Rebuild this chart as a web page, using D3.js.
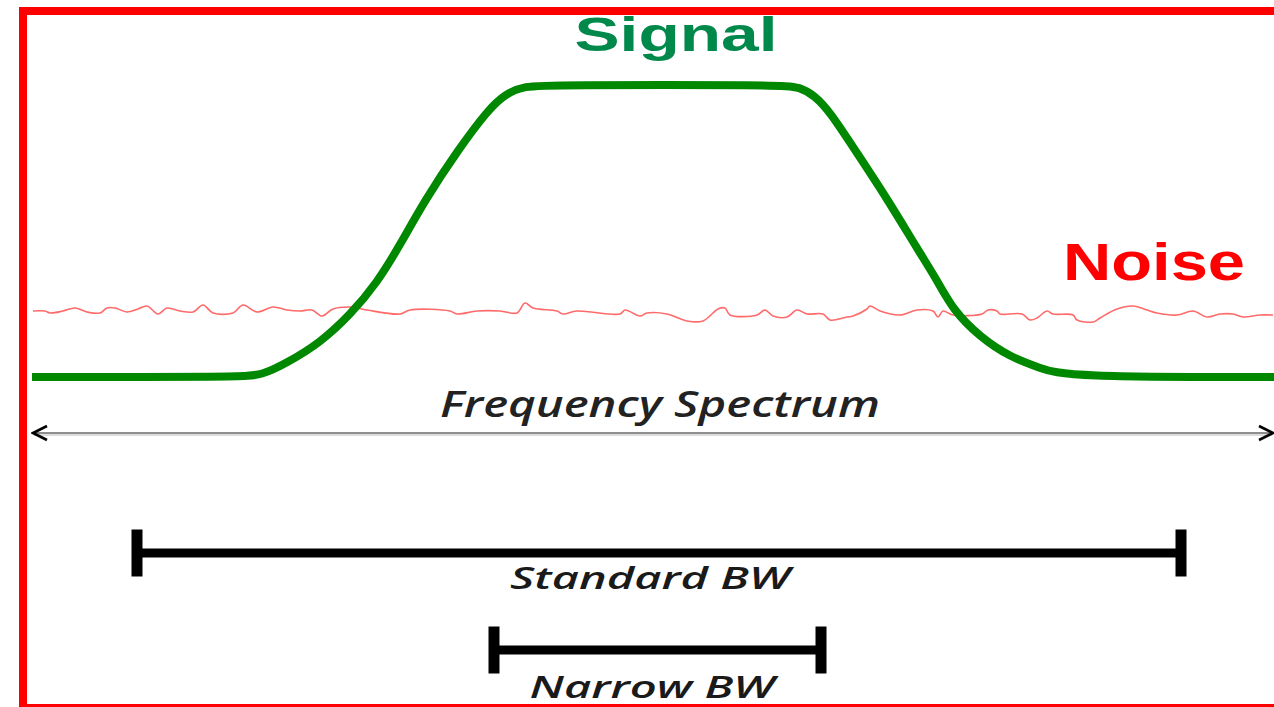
<!DOCTYPE html>
<html>
<head>
<meta charset="utf-8">
<script src="https://cdn.jsdelivr.net/npm/d3@7"></script>
<style>
  html, body { margin: 0; padding: 0; background: #fff; }
  svg { display: block; }
</style>
</head>
<body>
<svg id="chart" width="1274" height="707"></svg>
<script>
// ---- data (frequency units, amplitude units) ----
const signalFreq = [0, 20.8, 23.0, 25.3, 28.8, 31.8, 34.5, 36.8, 39.3, 42.6, 45.6, 47.3, 49.3, 51.8, 74.8, 76.8, 78.3, 79.8, 82.3, 85.6, 88.6, 90.5, 92.1, 94.8, 97.8, 100.8, 103.5, 124.2];
const signalAmp  = [0, 0, 0.2, 1.3, 3.4, 6.2, 9.4, 13.2, 17.7, 22.7, 26.7, 28.3, 29.1, 29.2, 29.2, 29.0, 28.1, 26.5, 22.7, 17.7, 12.7, 9.7, 6.7, 4.0, 2.0, 0.9, 0, 0];

const noiseFreq = [0.1, 1.3, 1.8, 3.1, 4.3, 5.5, 6.8, 7.5, 8.3, 9.5, 10.6, 11.5, 12.6, 13.5, 14.8, 16.1, 17.1, 18.1, 20.1, 21.1, 22.5, 24.1, 25.5, 26.8, 28.0, 29.0, 30.1, 31.8, 33.5, 36.8, 37.8, 41.8, 42.5, 44.5, 46.8, 48.5, 49.3, 50.1, 52.5, 53.1, 54.5, 58.8, 59.3, 60.8, 61.5, 63.5, 65.5, 67.1, 68.6, 69.3, 69.8, 72.5, 73.3, 74.1, 75.5, 76.5, 77.5, 79.1, 79.8, 81.5, 82.1, 83.5, 83.8, 84.8, 86.8, 88.5, 90.1, 90.6, 91.1, 92.1, 95.0, 95.6, 96.5, 96.8, 99.0, 99.8, 100.5, 101.5, 102.1, 104.1, 104.5, 106.1, 106.8, 108.5, 110.1, 111.5, 112.5, 114.5, 116.1, 117.5, 118.8, 120.1, 121.1, 122.8, 124.1];
const noiseAmp  = [6.6, 6.6, 6.4, 6.6, 6.9, 6.5, 6.4, 6.9, 6.9, 6.5, 6.8, 7.1, 6.3, 6.9, 6.6, 6.5, 7.2, 6.4, 6.4, 7.2, 6.5, 7.0, 6.7, 6.6, 6.7, 6.1, 6.8, 7.0, 6.7, 6.3, 6.7, 6.6, 6.3, 6.6, 6.6, 6.4, 7.4, 6.9, 6.6, 6.3, 6.6, 6.3, 6.7, 6.1, 6.4, 6.3, 5.6, 5.6, 6.8, 6.9, 6.2, 6.2, 6.7, 6.1, 6.0, 6.7, 6.3, 6.3, 5.7, 6.0, 6.1, 6.8, 7.1, 6.6, 6.2, 6.7, 6.6, 6.0, 6.6, 6.2, 6.3, 6.7, 6.6, 6.3, 6.3, 5.7, 5.9, 6.6, 6.3, 6.2, 5.7, 5.5, 5.9, 6.8, 7.1, 6.7, 6.4, 6.2, 6.6, 6.0, 6.3, 6.3, 6.0, 6.2, 6.2];

const spectrumRange = [0, 124.2];
const spectrumLevel = -5.6;

const bwLabels = ["Standard BW", "Narrow BW"];
const bwStart  = [10.5, 46.2];
const bwEnd    = [114.9, 78.9];
const bwLevel  = [-17.6, -27.3];
const bwCapHalf = 2.35;

const titleSignal = "Signal";
const titleNoise = "Noise";
const titleSpectrum = "Frequency Spectrum";

// ---- scales ----
const x = d3.scaleLinear().domain([0, 124.2]).range([32, 1274]);
const y = d3.scaleLinear().domain([0, 30]).range([377, 77]);

const svg = d3.select("#chart");

svg.append("defs").html(`
  <marker id="arrowEnd" viewBox="0 0 20 20" refX="18" refY="10" markerWidth="20" markerHeight="20" markerUnits="userSpaceOnUse" orient="auto">
    <path d="M4,3 L18,10 L4,17" fill="none" stroke="#000" stroke-width="2.6"/>
  </marker>
  <marker id="arrowStart" viewBox="0 0 20 20" refX="2" refY="10" markerWidth="20" markerHeight="20" markerUnits="userSpaceOnUse" orient="auto">
    <path d="M16,3 L2,10 L16,17" fill="none" stroke="#000" stroke-width="2.6"/>
  </marker>
`);

// noise
const noiseData = noiseFreq.map((f, i) => [f, noiseAmp[i]]);
svg.append("path")
  .datum(noiseData)
  .attr("d", d3.line().x(d => x(d[0])).y(d => y(d[1])).curve(d3.curveCatmullRom.alpha(0.5)))
  .attr("fill", "none")
  .attr("stroke", "#ff6a6a")
  .attr("stroke-width", 1.6)
  .attr("stroke-linejoin", "round");

// signal
const signalData = signalFreq.map((f, i) => [f, signalAmp[i]]);
svg.append("path")
  .datum(signalData)
  .attr("d", d3.line().x(d => x(d[0])).y(d => y(d[1])).curve(d3.curveBasis))
  .attr("fill", "none")
  .attr("stroke", "#008800")
  .attr("stroke-width", 8)
  .attr("stroke-linejoin", "round");

// spectrum arrow
svg.append("line")
  .attr("x1", x(spectrumRange[0]) + 2).attr("x2", x(spectrumRange[1]) - 2)
  .attr("y1", y(spectrumLevel) + 2).attr("y2", y(spectrumLevel) + 2)
  .attr("stroke", "#dcdcdc").attr("stroke-width", 2);
svg.append("line")
  .attr("x1", x(spectrumRange[0]) + 1).attr("x2", x(spectrumRange[1]) - 1)
  .attr("y1", y(spectrumLevel)).attr("y2", y(spectrumLevel))
  .attr("stroke", "#8e8e8e").attr("stroke-width", 2.2)
  .attr("marker-start", "url(#arrowStart)")
  .attr("marker-end", "url(#arrowEnd)");

svg.append("text")
  .attr("x", 660).attr("y", y(spectrumLevel) - 16)
  .attr("text-anchor", "middle")
  .attr("font-family", "'Open Sans', 'DejaVu Sans', sans-serif")
  .attr("font-style", "italic").attr("font-weight", 600)
  .attr("font-size", 36)
  .attr("textLength", 440).attr("lengthAdjust", "spacingAndGlyphs")
  .attr("fill", "#222")
  .text(titleSpectrum);

// bandwidth bars
const bw = bwLabels.map((l, i) => ({ label: l, s: bwStart[i], e: bwEnd[i], lv: bwLevel[i] }));
const g = svg.selectAll("g.bw").data(bw).join("g").attr("class", "bw");
g.append("line")
  .attr("x1", d => x(d.s)).attr("x2", d => x(d.e))
  .attr("y1", d => y(d.lv)).attr("y2", d => y(d.lv))
  .attr("stroke", "#000").attr("stroke-width", 9);
g.append("line")
  .attr("x1", d => x(d.s)).attr("x2", d => x(d.s))
  .attr("y1", d => y(d.lv + bwCapHalf)).attr("y2", d => y(d.lv - bwCapHalf))
  .attr("stroke", "#000").attr("stroke-width", 11);
g.append("line")
  .attr("x1", d => x(d.e)).attr("x2", d => x(d.e))
  .attr("y1", d => y(d.lv + bwCapHalf)).attr("y2", d => y(d.lv - bwCapHalf))
  .attr("stroke", "#000").attr("stroke-width", 11);
const labelCfg = [{ cx: 650, dy: 36, fs: 31, w: 280 }, { cx: 652, dy: 48, fs: 31, w: 245 }];
g.append("text")
  .attr("x", (d, i) => labelCfg[i].cx)
  .attr("y", (d, i) => y(d.lv) + labelCfg[i].dy)
  .attr("text-anchor", "middle")
  .attr("font-family", "'Open Sans', 'DejaVu Sans', sans-serif")
  .attr("font-style", "italic").attr("font-weight", 600)
  .attr("font-size", (d, i) => labelCfg[i].fs)
  .attr("textLength", (d, i) => labelCfg[i].w).attr("lengthAdjust", "spacingAndGlyphs")
  .attr("fill", "#1a1a1a")
  .text(d => d.label);

// titles
svg.append("text")
  .attr("x", 676).attr("y", 51)
  .attr("text-anchor", "middle")
  .attr("font-family", "'Liberation Sans', Arial, sans-serif")
  .attr("font-weight", "bold").attr("font-size", 48)
  .attr("textLength", 203).attr("lengthAdjust", "spacingAndGlyphs")
  .attr("fill", "#00894a")
  .text(titleSignal);

svg.append("text")
  .attr("x", 1154).attr("y", 280)
  .attr("text-anchor", "middle")
  .attr("font-family", "'Liberation Sans', Arial, sans-serif")
  .attr("font-weight", "bold").attr("font-size", 51)
  .attr("textLength", 182).attr("lengthAdjust", "spacingAndGlyphs")
  .attr("fill", "#ff0000")
  .text(titleNoise);

// red frame
svg.append("rect")
  .attr("x", 23).attr("y", 11)
  .attr("width", 1300).attr("height", 697)
  .attr("fill", "none")
  .attr("stroke", "#ff0000")
  .attr("stroke-width", 8);
</script>
</body>
</html>
